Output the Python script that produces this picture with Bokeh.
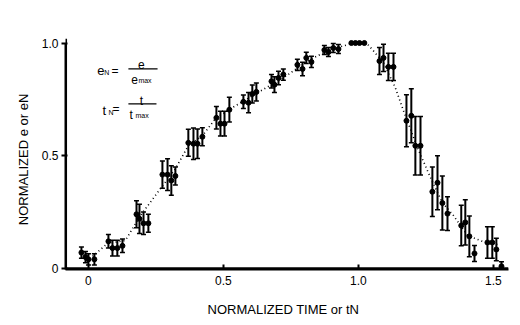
from bokeh.plotting import figure
from bokeh.models import (ColumnDataSource, Whisker, TeeHead, Range1d, FixedTicker,
                          Label, BoxAnnotation, Span)
from bokeh.embed import file_html
from bokeh.resources import INLINE

# ---- data ----
t_vals = [-0.026, -0.011, 0.0, 0.022,
          0.074, 0.089, 0.107, 0.126,
          0.178, 0.189, 0.204, 0.222,
          0.274, 0.293, 0.307, 0.322,
          0.370, 0.389, 0.404, 0.422,
          0.474, 0.489, 0.504, 0.522,
          0.574, 0.593, 0.607, 0.622,
          0.678, 0.689, 0.704, 0.722,
          0.774, 0.793, 0.807, 0.826,
          0.874, 0.889, 0.907, 0.926,
          0.974, 0.989, 1.004, 1.022,
          1.078, 1.093, 1.111, 1.130,
          1.178, 1.196, 1.211, 1.230,
          1.274, 1.293, 1.311, 1.330,
          1.381, 1.396, 1.411, 1.430,
          1.478, 1.496, 1.511, 1.530]
e_vals = [0.07, 0.05, 0.04, 0.04,
          0.12, 0.09, 0.09, 0.10,
          0.24, 0.22, 0.20, 0.20,
          0.416, 0.416, 0.39, 0.41,
          0.557, 0.553, 0.553, 0.584,
          0.668, 0.642, 0.642, 0.704,
          0.739, 0.735, 0.774, 0.783,
          0.83, 0.815, 0.845, 0.86,
          0.903, 0.885, 0.934, 0.916,
          0.969, 0.96, 0.978, 0.973,
          1.0, 1.0, 1.0, 1.0,
          0.92, 0.934, 0.894, 0.894,
          0.655, 0.677, 0.544, 0.544,
          0.34, 0.38, 0.29, 0.243,
          0.19, 0.204, 0.142, 0.066,
          0.115, 0.115, 0.084, 0.009]
e_err = [0.025, 0.025, 0.025, 0.025,
         0.03, 0.035, 0.035, 0.03,
         0.06, 0.065, 0.05, 0.04,
         0.06, 0.07, 0.065, 0.04,
         0.06, 0.07, 0.065, 0.04,
         0.05, 0.055, 0.055, 0.055,
         0.03, 0.045, 0.04, 0.04,
         0.03, 0.035, 0.03, 0.025,
         0.025, 0.03, 0.025, 0.025,
         0.02, 0.02, 0.02, 0.02,
         0.0, 0.0, 0.0, 0.0,
         0.06, 0.06, 0.06, 0.06,
         0.115, 0.12, 0.13, 0.13,
         0.11, 0.12, 0.12, 0.075,
         0.09, 0.10, 0.09, 0.035,
         0.07, 0.07, 0.05, 0.02]

curve_t = [0.015, 0.07, 0.137, 0.193, 0.267, 0.322, 0.37, 0.422, 0.47, 0.526, 0.626,
           0.722, 0.774, 0.833, 0.885, 0.944, 0.97, 1.03, 1.056, 1.093, 1.137, 1.167,
           1.219, 1.267, 1.311, 1.352, 1.404, 1.478, 1.515]
curve_e = [0.053, 0.11, 0.124, 0.235, 0.354, 0.442, 0.544, 0.588, 0.664, 0.708, 0.779,
           0.845, 0.889, 0.934, 0.965, 0.987, 0.996, 1.0, 0.965, 0.912, 0.801, 0.699,
           0.535, 0.403, 0.292, 0.235, 0.146, 0.111, 0.106]

x_ticks = [0, 0.5, 1.0, 1.5]
x_tick_labels = ["0", "0.5", "1.0", "1.5"]
y_ticks = [0, 0.5, 1.0]
y_tick_labels = ["0", "0.5", "1.0"]
x_title = "NORMALIZED TIME  or  tN"
y_title = "NORMALIZED  e  or  eN"

p = figure(width=520, height=325, output_backend="svg", toolbar_location=None,
           x_range=Range1d(-0.085, 1.556), y_range=Range1d(-0.005, 1.02),
           min_border_left=65, min_border_right=12, min_border_top=38,
           min_border_bottom=56)
p.outline_line_color = None
p.xgrid.visible = False
p.ygrid.visible = False

# axis frame lines (drawn along the axes as well)
p.add_layout(Span(location=0.0, dimension="width", line_color="black", line_width=2))
p.add_layout(Span(location=-0.083, dimension="height", line_color="black", line_width=2))

# dotted curve
p.line(curve_t, curve_e, line_color="black", line_width=1.6, line_dash="1 3")

# error bars
bars = [(t, e, s) for t, e, s in zip(t_vals, e_vals, e_err) if s > 0]
wsrc = ColumnDataSource(dict(t=[b[0] for b in bars],
                             lo=[b[1] - b[2] for b in bars],
                             hi=[b[1] + b[2] for b in bars]))
w = Whisker(base="t", lower="lo", upper="hi", source=wsrc, line_width=2,
            upper_head=TeeHead(size=5, line_width=1.5),
            lower_head=TeeHead(size=5, line_width=1.5))
p.add_layout(w)

p.scatter(t_vals, e_vals, size=5, color="black")

# axes
for ax in (p.xaxis[0], p.yaxis[0]):
    ax.axis_line_width = 2
    ax.axis_line_color = "black"
    ax.major_tick_line_width = 2
    ax.minor_tick_line_color = None
    ax.major_label_text_font_size = "12px"
    ax.major_label_text_color = "black"
    ax.axis_label_text_font_style = "normal"
    ax.axis_label_text_font_size = "13px"
    ax.axis_label_text_color = "black"

p.xaxis.ticker = FixedTicker(ticks=x_ticks)
p.xaxis.major_label_overrides = {k: v for k, v in zip(x_ticks, x_tick_labels)}
p.xaxis.major_tick_in = 5
p.xaxis.major_tick_out = 0
p.xaxis.major_label_standoff = 6
p.xaxis.axis_label = x_title
p.xaxis.axis_label_standoff = 14

p.yaxis.ticker = FixedTicker(ticks=y_ticks)
p.yaxis.major_label_overrides = {k: v for k, v in zip(y_ticks, y_tick_labels)}
p.yaxis.major_tick_out = 4
p.yaxis.major_label_standoff = 3
p.yaxis.bounds = (-0.005, 1.0)
p.yaxis.axis_label = y_title
p.yaxis.axis_label_standoff = 8


def lab(x, y, text, size, align="left"):
    p.add_layout(Label(x=x, y=y, text=text, text_font_size=f"{size}px",
                       text_color="black", text_align=align,
                       text_baseline="alphabetic"))


# formulas
lab(0.033, 0.876, "e", 13)
lab(0.059, 0.867, "N", 7)
lab(0.085, 0.876, "=", 12)
lab(0.196, 0.903, "e", 12, align="center")
p.add_layout(BoxAnnotation(left=0.148, right=0.256, bottom=0.882, top=0.888,
                           fill_color="black", fill_alpha=1, line_color=None))
lab(0.159, 0.836, "e", 12)
lab(0.185, 0.832, "max", 7)

lab(0.052, 0.699, "t", 13)
lab(0.074, 0.690, "N", 7)
lab(0.089, 0.708, "=", 12)
lab(0.196, 0.743, "t", 12, align="center")
p.add_layout(BoxAnnotation(left=0.148, right=0.252, bottom=0.727, top=0.733,
                           fill_color="black", fill_alpha=1, line_color=None))
lab(0.152, 0.681, "t", 12)
lab(0.174, 0.677, "max", 7)

open("out.html", "w").write(file_html(p, INLINE))
